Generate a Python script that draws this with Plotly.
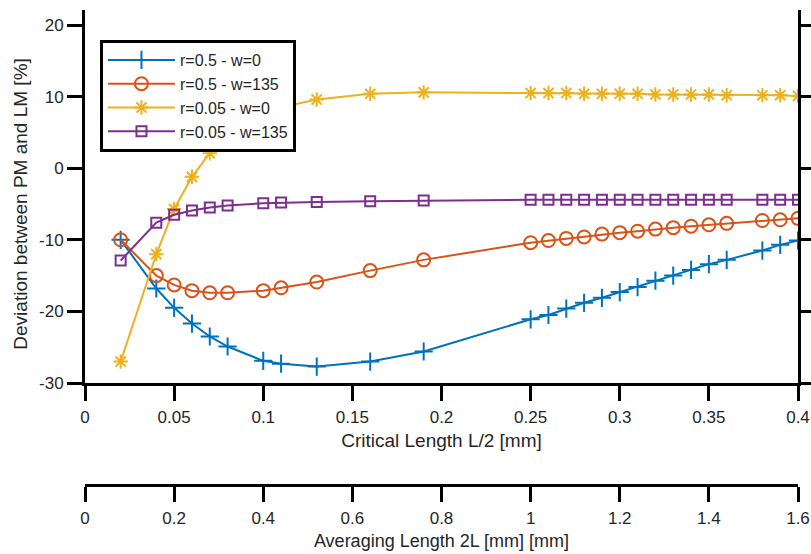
import plotly.graph_objects as go

# Critical length L/2 [mm] at which each deviation was evaluated
half_length_mm = [0.02, 0.04, 0.05, 0.06, 0.07, 0.08, 0.10, 0.11, 0.13, 0.16, 0.19,
                  0.25, 0.26, 0.27, 0.28, 0.29, 0.30, 0.31, 0.32, 0.33, 0.34, 0.35, 0.36,
                  0.38, 0.39, 0.40]

# Deviation between PM and LM [%]
dev_r05_w0 = [-10.0, -16.8, -19.5, -21.7, -23.5, -24.9, -26.9, -27.3, -27.7, -27.0, -25.6,
              -21.1, -20.5, -19.6, -18.8, -18.1, -17.3, -16.6, -15.7, -15.0, -14.2, -13.4, -12.8,
              -11.5, -10.7, -10.1]
dev_r05_w135 = [-10.0, -15.0, -16.3, -17.1, -17.4, -17.4, -17.1, -16.7, -15.9, -14.3, -12.8,
                -10.4, -10.1, -9.8, -9.6, -9.2, -9.0, -8.8, -8.5, -8.3, -8.1, -7.9, -7.7,
                -7.3, -7.2, -7.0]
dev_r005_w0 = [-27.0, -12.0, -5.7, -1.2, 2.1, 4.5, 7.6, 8.5, 9.6, 10.4, 10.6,
               10.5, 10.5, 10.5, 10.4, 10.4, 10.4, 10.4, 10.3, 10.3, 10.3, 10.3, 10.2,
               10.2, 10.2, 10.1]
dev_r005_w135 = [-12.9, -7.6, -6.5, -5.9, -5.5, -5.2, -4.9, -4.8, -4.7, -4.6, -4.5,
                 -4.4, -4.4, -4.4, -4.4, -4.4, -4.4, -4.4, -4.4, -4.4, -4.4, -4.4, -4.4,
                 -4.4, -4.4, -4.4]

series_names = ["r=0.5 - w=0", "r=0.5 - w=135", "r=0.05 - w=0", "r=0.05 - w=135"]

x_tick_vals = [0, 0.05, 0.1, 0.15, 0.2, 0.25, 0.3, 0.35, 0.4]
x_tick_text = ["0", "0.05", "0.1", "0.15", "0.2", "0.25", "0.3", "0.35", "0.4"]
x2_tick_vals = [0, 0.2, 0.4, 0.6, 0.8, 1.0, 1.2, 1.4, 1.6]
x2_tick_text = ["0", "0.2", "0.4", "0.6", "0.8", "1", "1.2", "1.4", "1.6"]
y_tick_vals = [-30, -20, -10, 0, 10, 20]
y_tick_text = ["-30", "-20", "-10", "0", "10", "20"]

FONT = "Liberation Sans, Arial, sans-serif"
TEXT = "#262626"

styles = [
    dict(color="#0072BD", symbol="cross-thin-open", size=13),
    dict(color="#D95319", symbol="circle-open", size=13),
    dict(color="#EDB120", symbol="asterisk-open", size=12),
    dict(color="#7E2F8E", symbol="square-open", size=10),
]
series = [dev_r05_w0, dev_r05_w135, dev_r005_w0, dev_r005_w135]

fig = go.Figure()
for name, ys, st in zip(series_names, series, styles):
    fig.add_trace(go.Scatter(
        x=half_length_mm, y=ys, name=name, mode="lines+markers",
        line=dict(color=st["color"], width=2),
        marker=dict(symbol=st["symbol"], size=st["size"], color=st["color"],
                    line=dict(color=st["color"], width=2)),
    ))

# Empty trace that carries the secondary (averaging length) axis
fig.add_trace(go.Scatter(x=[0, 1.6], y=[None, None], xaxis="x2", yaxis="y",
                         showlegend=False, hoverinfo="skip", mode="lines"))

axis_common = dict(
    showline=True, linecolor="black", linewidth=3,
    ticks="outside", ticklen=15, tickwidth=3, tickcolor="black",
    showgrid=False, zeroline=False, automargin=False,
    tickfont=dict(family=FONT, size=17, color=TEXT),
)

fig.update_layout(
    width=811, height=554,
    margin=dict(l=85, r=13, t=10, b=69),
    paper_bgcolor="white", plot_bgcolor="white",
    font=dict(family=FONT, size=16, color=TEXT),
    xaxis=dict(
        range=[0, 0.4], tickvals=x_tick_vals, ticktext=x_tick_text,
        anchor="y", ticklabelstandoff=2,
        title=dict(text="Critical Length L/2 [mm]", standoff=8,
                   font=dict(family=FONT, size=19, color=TEXT)),
        **axis_common,
    ),
    xaxis2=dict(
        range=[0, 1.6], tickvals=x2_tick_vals, ticktext=x2_tick_text,
        overlaying="x", anchor="free", position=0, side="bottom", ticklabelstandoff=2,
        title=dict(text="Averaging Length 2L [mm] [mm]", standoff=6,
                   font=dict(family=FONT, size=18, color=TEXT)),
        **axis_common,
    ),
    yaxis=dict(
        range=[-30, 22.1], tickvals=y_tick_vals, ticktext=y_tick_text, domain=[0.2147, 1],
        mirror="ticks",
        **axis_common,
    ),
    legend=dict(
        x=0.021, y=0.9368, xanchor="left", yanchor="top",
        bgcolor="white", bordercolor="black", borderwidth=3,
        font=dict(family=FONT, size=16, color=TEXT),
        itemwidth=67, tracegroupgap=0,
    ),
    showlegend=True,
)

# Y-axis label, centred on the -30..20 span of the value axis
fig.add_annotation(
    text="Deviation between PM and LM [%]", textangle=-90,
    xref="paper", yref="paper", x=-0.0902, y=0.5916,
    xanchor="center", yanchor="middle", showarrow=False,
    font=dict(family=FONT, size=19, color=TEXT),
)

fig.write_html("out.html")
